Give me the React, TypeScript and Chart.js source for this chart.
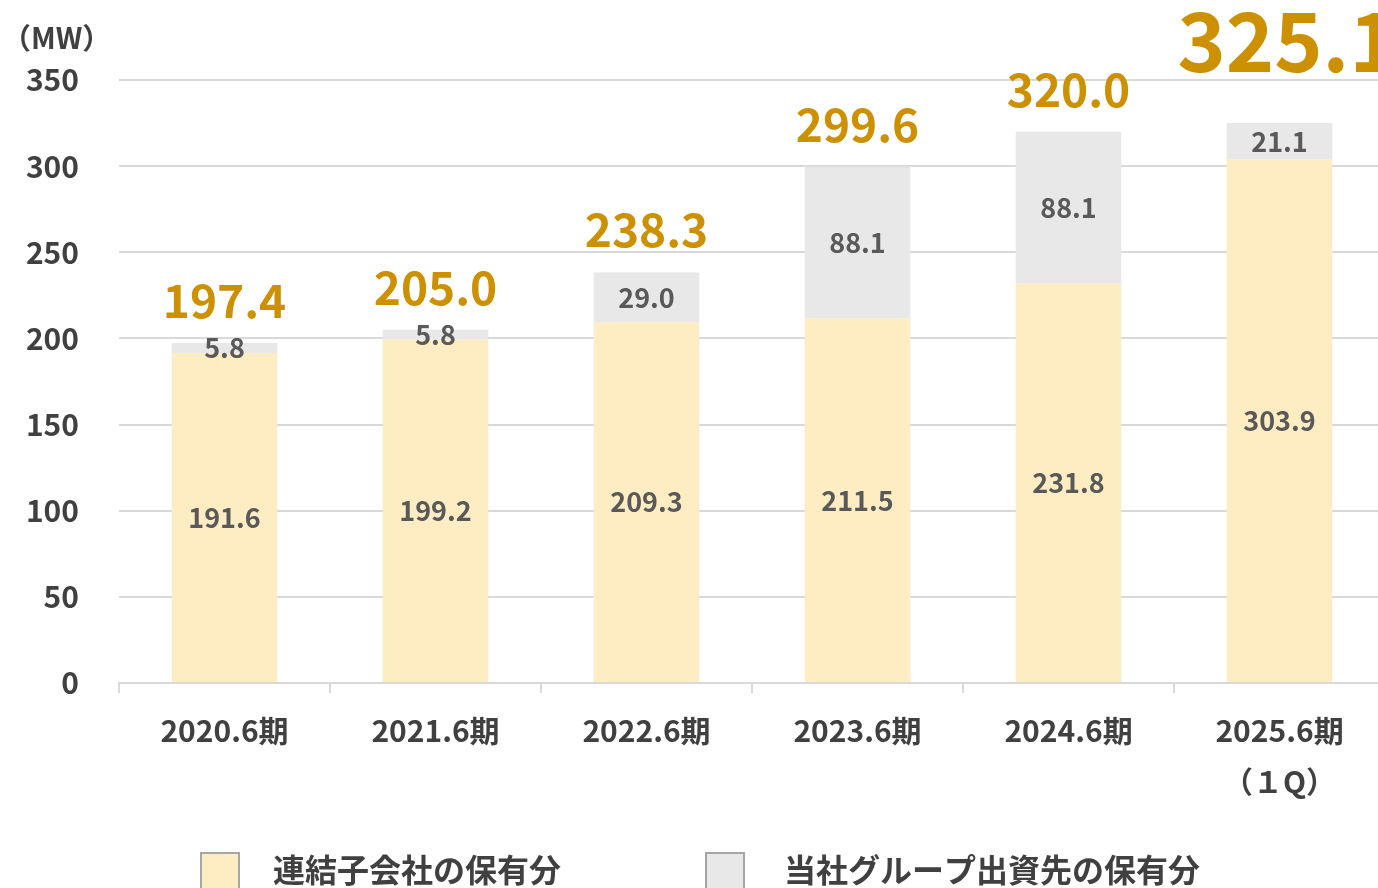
import React, { useEffect, useRef } from "react";
import { Chart, registerables } from "chart.js";

Chart.register(...registerables);

const categories: (string | string[])[] = [
  "2020.6期",
  "2021.6期",
  "2022.6期",
  "2023.6期",
  "2024.6期",
  ["2025.6期", "（１Q）"],
];
const consolidatedValues = [191.6, 199.2, 209.3, 211.5, 231.8, 303.9];
const groupValues = [5.8, 5.8, 29.0, 88.1, 88.1, 21.1];
const totalLabels = ["197.4", "205.0", "238.3", "299.6", "320.0", "325.1"];
const seriesNames = ["連結子会社の保有分", "当社グループ出資先の保有分"];
const yTicks = [0, 50, 100, 150, 200, 250, 300, 350];
const unitLabel = "（MW）";

const FONT = "'Noto Sans CJK JP', 'Noto Sans', sans-serif";
const YELLOW = "#FEECC3";
const GRAY = "#E8E8E8";
const GOLD = "#CC9000";

const labelsPlugin = {
  id: "customLabels",
  afterDatasetsDraw(chart: any) {
    const ctx = chart.ctx;
    ctx.save();
    ctx.textAlign = "center";
    ctx.textBaseline = "middle";
    ctx.fillStyle = "#595959";
    ctx.font = `bold 27px ${FONT}`;
    chart.data.datasets.forEach((ds: any, di: number) => {
      const meta = chart.getDatasetMeta(di);
      meta.data.forEach((el: any, i: number) => {
        const v = ds.data[i];
        const y = (el.y + el.base) / 2;
        ctx.fillText(v.toFixed(1), el.x, y);
      });
    });
    // totals
    const topMeta = chart.getDatasetMeta(chart.data.datasets.length - 1);
    ctx.fillStyle = GOLD;
    ctx.textBaseline = "alphabetic";
    topMeta.data.forEach((el: any, i: number) => {
      const last = i === totalLabels.length - 1;
      ctx.font = last ? `bold 82px ${FONT}` : `bold 46px ${FONT}`;
      ctx.fillText(totalLabels[i], el.x + (last ? 8 : 0), el.y - (last ? 51 : 25));
    });
    // unit label
    ctx.fillStyle = "#404040";
    ctx.font = `bold 29px ${FONT}`;
    ctx.textAlign = "left";
    ctx.textBaseline = "middle";
    ctx.fillText(unitLabel, 2, 38);
    // legend
    const colors = [YELLOW, GRAY];
    const xs = [201, 706];
    ctx.font = `bold 32px ${FONT}`;
    seriesNames.forEach((name, i) => {
      ctx.fillStyle = colors[i];
      ctx.fillRect(xs[i], 853, 38, 40);
      ctx.strokeStyle = "#A6A6A6";
      ctx.lineWidth = 2;
      ctx.strokeRect(xs[i], 853, 38, 40);
      ctx.fillStyle = "#404040";
      ctx.fillText(name, xs[i] + 72 + (i === 1 ? 6 : 0), 870);
    });
    ctx.restore();
  },
};

export default function App() {
  const ref = useRef<HTMLCanvasElement>(null);
  useEffect(() => {
    if (!ref.current) return;
    const chart = new Chart(ref.current, {
      type: "bar",
      data: {
        labels: categories,
        datasets: [
          {
            label: seriesNames[0],
            data: consolidatedValues,
            backgroundColor: YELLOW,
            categoryPercentage: 1,
            barPercentage: 0.5,
          },
          {
            label: seriesNames[1],
            data: groupValues,
            backgroundColor: GRAY,
            categoryPercentage: 1,
            barPercentage: 0.5,
          },
        ],
      },
      options: {
        responsive: false,
        animation: false,
        layout: { padding: { top: 80, right: 0, bottom: 75, left: 0 } },
        plugins: {
          legend: { display: false },
          tooltip: { enabled: false },
        },
        scales: {
          x: {
            stacked: true,
            grid: {
              offset: true,
              drawOnChartArea: false,
              tickLength: 10,
              color: "#D9D9D9",
              lineWidth: 2,
            },
            border: { display: true, color: "#D9D9D9", width: 2 },
            ticks: {
              color: "#404040",
              font: { family: FONT, size: 30, weight: "bold", lineHeight: 1.7 },
              padding: 12,
              maxRotation: 0,
            },
            afterFit(scale: any) {
              scale.height = 130;
            },
          },
          y: {
            stacked: true,
            min: 0,
            max: 350,
            afterBuildTicks(scale: any) {
              scale.ticks = yTicks.map((v) => ({ value: v }));
            },
            grid: { color: "#D9D9D9", lineWidth: 2, drawTicks: false },
            border: { display: false },
            ticks: {
              color: "#404040",
              font: { family: FONT, size: 30, weight: "bold" },
              padding: 40,
            },
            afterFit(scale: any) {
              scale.width = 119;
            },
          },
        },
      },
      plugins: [labelsPlugin],
    });
    return () => chart.destroy();
  }, []);
  return (
    <div
      style={{
        position: "fixed",
        left: 0,
        top: 0,
        width: 1378,
        height: 888,
        overflow: "hidden",
        background: "#fff",
      }}
    >
      <canvas ref={ref} width={1385} height={888} style={{ display: "block" }} />
    </div>
  );
}
